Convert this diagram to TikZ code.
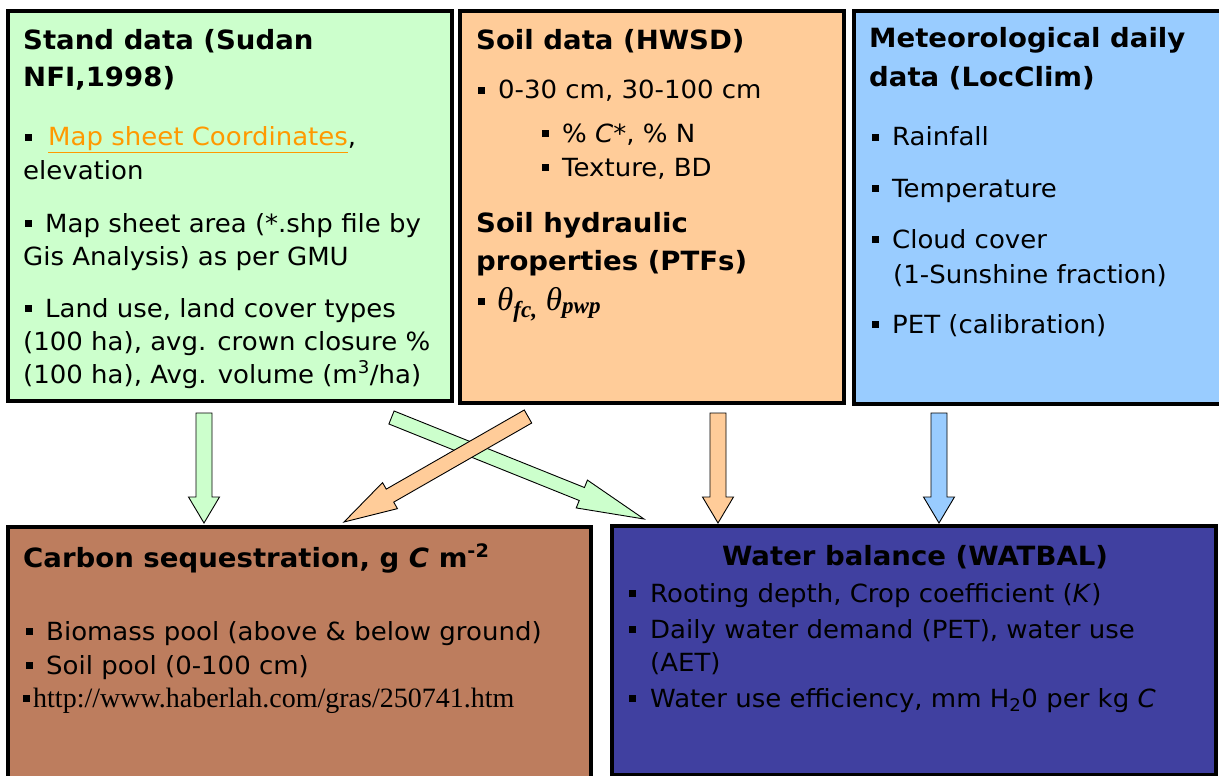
\documentclass[tikz,border=0pt]{standalone}
\usepackage{fontspec}
\setmainfont[FakeStretch=1.04]{DejaVu Sans}
\newfontfamily\tms{Liberation Serif}
\usetikzlibrary{calc}
\definecolor{gfill}{HTML}{CCFFCC}
\definecolor{ofill}{HTML}{FFCC99}
\definecolor{bfill}{HTML}{99CCFF}
\definecolor{brfill}{HTML}{BD7D5E}
\definecolor{nfill}{HTML}{4040A0}
\definecolor{linkc}{HTML}{FF9900}
\newcommand\bul{\raisebox{0.22em}{\rule{6.5pt}{6.5pt}}}
\newcommand\blockarrow[7]{%
  \coordinate (#1h) at ($(#4)!#7!(#3)$);
  \draw[arr, fill=#2] ($(#3)!#5!90:(#4)$) -- ($(#1h)!#5!-90:(#3)$) -- ($(#1h)!#6!-90:(#3)$) -- (#4)
    -- ($(#1h)!#6!90:(#3)$) -- ($(#1h)!#5!90:(#3)$) -- ($(#3)!#5!-90:(#4)$) -- cycle;}
\begin{document}
\begin{tikzpicture}[x=1pt,y=-1pt,
  box/.style={draw=black, line width=4pt, anchor=north west, inner sep=0pt, outer sep=0pt},
  ttl/.style={anchor=base west, inner sep=0pt, font=\bfseries\fontsize{26.5}{30}\selectfont},
  txt/.style={anchor=base west, inner sep=0pt, font=\fontsize{25}{30}\selectfont},
  bl/.style={anchor=base west, inner sep=0pt, font=\fontsize{23}{30}\selectfont},
  arr/.style={draw=black, line width=0.9pt, line join=miter}]
\useasboundingbox (0,0) rectangle (1219,776);
% boxes
\node[box, fill=gfill, minimum width=444pt, minimum height=389.5pt] (stand) at (7.5,11) {};
\node[box, fill=ofill, minimum width=384pt, minimum height=391.5pt] (soil) at (460,11) {};
\node[box, fill=bfill, minimum width=372pt, minimum height=392.5pt] (met) at (853.5,11) {};
\node[box, fill=brfill, minimum width=583pt, minimum height=280pt] (carb) at (8,527) {};
\node[box, fill=nfill, minimum width=603.5pt, minimum height=249pt] (wat) at (612,526) {};
% green box text
\node[ttl] (s1) at (23,50) {Stand data (Sudan};
\node[ttl] (s2) at (23,87) {NFI,1998)};
\node[bl] (s3b) at (25,146) {\bul};
\node[txt] (s3) at (48,146) {{\color{linkc}\underline{Map sheet Coordinates}},};
\node[txt] (s4) at (23,179) {elevation};
\node[bl] (s5b) at (25,232) {\bul};
\node[txt] (s5) at (45,232) {Map sheet area (*.shp file by};
\node[txt] (s6) at (23,265) {Gis Analysis) as per GMU};
\node[bl] (s7b) at (25,317) {\bul};
\node[txt] (s7) at (45,317) {Land use, land cover types};
\node[txt] (s8) at (23,350) {(100 ha), avg. crown closure \%};
\node[txt] (s9) at (23,383) {(100 ha), Avg. volume (m\textsuperscript{3}/ha)};
% orange box text
\node[ttl] (o1) at (476,50) {Soil data (HWSD)};
\node[bl] (o2b) at (478,99) {\bul};
\node[txt] (o2) at (498,99) {0-30 cm, 30-100 cm};
\node[bl] (o3b) at (542,142) {\bul};
\node[txt] (o3) at (562,142) {\% \textit{C}*, \% N};
\node[bl] (o4b) at (542,176) {\bul};
\node[txt] (o4) at (562,176) {Texture, BD};
\node[ttl] (o5) at (476,232) {Soil hydraulic};
\node[ttl] (o6) at (476,270) {properties (PTFs)};
\node[bl] (o7b) at (478,310) {\bul};
\node[txt] (o7) at (497,310) {\tms\itshape\fontsize{33}{33}\selectfont θ\textsubscript{\bfseries fc,} θ\textsubscript{\bfseries pwp}};
% blue box text
\node[ttl] (m1) at (869,48) {Meteorological daily};
\node[ttl] (m2) at (869,87) {data (LocClim)};
\node[bl] (m3b) at (872,146) {\bul};
\node[txt] (m3) at (892,146) {Rainfall};
\node[bl] (m4b) at (872,197) {\bul};
\node[txt] (m4) at (892,197) {Temperature};
\node[bl] (m5b) at (872,248) {\bul};
\node[txt] (m5) at (892,248) {Cloud cover};
\node[txt] (m6) at (893,283) {(1-Sunshine fraction)};
\node[bl] (m7b) at (872,333) {\bul};
\node[txt] (m7) at (892,333) {PET (calibration)};
% brown box text
\node[ttl] (c1) at (23,567) {Carbon sequestration, g \textit{C} m\textsuperscript{-2}};
\node[bl] (c2b) at (26,640) {\bul};
\node[txt] (c2) at (46,640) {Biomass pool (above \& below ground)};
\node[bl] (c3b) at (26,674) {\bul};
\node[txt] (c3) at (46,674) {Soil pool (0-100 cm)};
\node[bl] (c4b) at (23,707) {\bul};
\node[txt, font=\tms\fontsize{28}{30}\selectfont] (c4) at (33,707) {http://www.haberlah.com/gras/250741.htm};
% navy box text
\node[ttl, anchor=base] (w1) at (915,565) {Water balance (WATBAL)};
\node[bl] (w2b) at (629,602) {\bul};
\node[txt] (w2) at (650,602) {Rooting depth, Crop coefficient (\textit{K})};
\node[bl] (w3b) at (629,638) {\bul};
\node[txt] (w3) at (650,638) {Daily water demand (PET), water use};
\node[txt] (w4) at (650,671) {(AET)};
\node[bl] (w5b) at (629,707) {\bul};
\node[txt] (w5) at (650,707) {Water use efficiency, mm H\textsubscript{2}0 per kg \textit{C}};
% arrows
\coordinate (gvT) at (204,413); \coordinate (gvH) at (204,523);
\coordinate (ovT) at (718,413); \coordinate (ovH) at (718,523);
\coordinate (bvT) at (939,413); \coordinate (bvH) at (939,523);
\coordinate (gdT) at (391.5,417.5); \coordinate (gdH) at (644,519);
\coordinate (odT) at (528,416.5); \coordinate (odH) at (344,522);
\blockarrow{gv}{gfill}{gvT}{gvH}{8pt}{15.5pt}{26pt}
\blockarrow{ov}{ofill}{ovT}{ovH}{8pt}{15.5pt}{26pt}
\blockarrow{bv}{bfill}{bvT}{bvH}{8pt}{15.5pt}{26pt}
\blockarrow{gd}{gfill}{gdT}{gdH}{7pt}{15pt}{67pt}
\blockarrow{od}{ofill}{odT}{odH}{7.5pt}{15pt}{53pt}
\end{tikzpicture}
\end{document}
